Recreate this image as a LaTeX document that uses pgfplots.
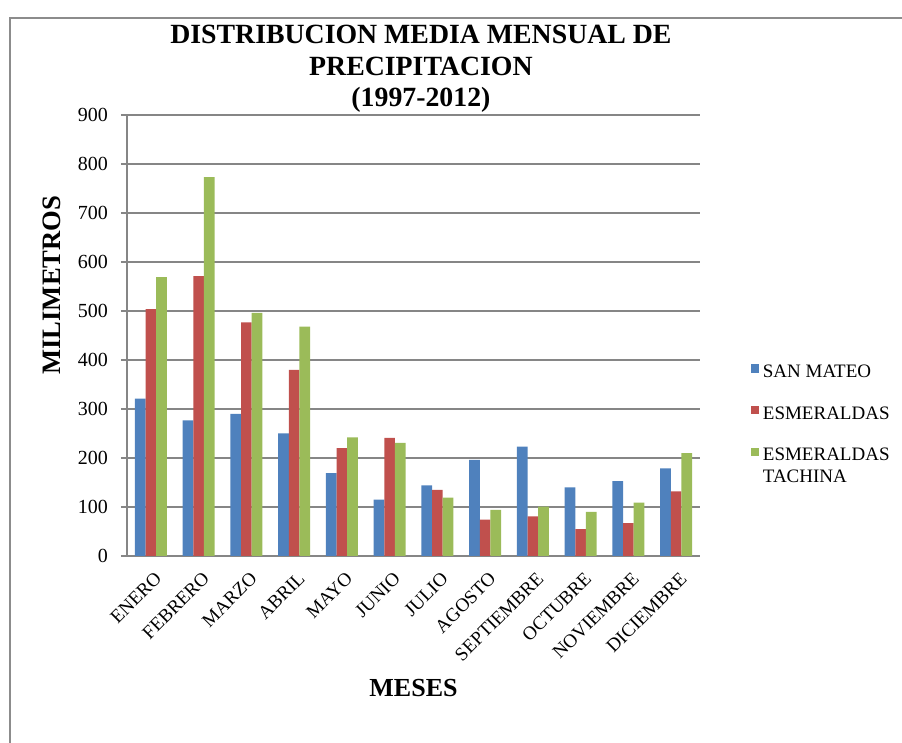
\documentclass[border=0pt]{standalone}
\usepackage{fontspec}
\setmainfont{Liberation Serif}
\usepackage{pgfplots}
\pgfplotsset{compat=1.18}
\definecolor{cblue}{RGB}{79,129,189}
\definecolor{cred}{RGB}{192,80,77}
\definecolor{cgreen}{RGB}{155,187,89}
\definecolor{gridg}{RGB}{134,134,134}
\definecolor{frameg}{RGB}{140,140,140}
\begin{document}
\begin{tikzpicture}
\useasboundingbox (0pt,0pt) rectangle (451pt,-371.5pt);
\draw[frameg, line width=0.7pt] (5pt,-372pt) -- (5pt,-9pt) -- (452pt,-9pt);
\begin{axis}[
  at={(63.5pt,-278pt)}, anchor=south west,
  scale only axis, width=286.5pt, height=220.5pt,
  ybar=0pt, bar width=5.35pt,
  xmin=-0.5, xmax=11.5, ymin=0, ymax=900,
  xtick=data,
  xticklabels={ENERO,FEBRERO,MARZO,ABRIL,MAYO,JUNIO,JULIO,AGOSTO,SEPTIEMBRE,OCTUBRE,NOVIEMBRE,DICIEMBRE},
  xticklabel style={rotate=45, anchor=north east, font=\fontsize{9.5}{11}\selectfont, inner sep=1pt, yshift=-3pt, xshift=-1pt},
  xtick style={draw=none},
  ytick={0,100,...,900},
  yticklabel style={font=\fontsize{10}{12}\selectfont, xshift=-3pt},
  /pgf/number format/assume math mode=true,
  ytick style={draw=gridg, line width=1pt},
  tick align=outside, major tick length=3pt,
  ymajorgrids, grid style={draw=gridg, line width=1pt},
  axis x line*=bottom, axis y line*=left,
  axis line style={draw=gridg, line width=1pt, -},
  title={DISTRIBUCION MEDIA MENSUAL DE\\PRECIPITACION\\(1997-2012)},
  title style={at={(axis description cs:0.513,1.077)}, anchor=center, align=center, font=\bfseries\fontsize{13.9}{15.8}\selectfont},
  xlabel={MESES},
  xlabel style={at={(axis description cs:0.5,-0.30)}, anchor=center, font=\bfseries\fontsize{13}{15}\selectfont},
  ylabel={MILIMETROS},
  ylabel style={at={(axis description cs:-0.131,0.614)}, anchor=center, rotate=0, font=\bfseries\fontsize{13.3}{15}\selectfont},
  legend image code/.code={\fill[#1] (0pt,0pt) rectangle (4.2pt,4.2pt);},
  legend style={at={(axis description cs:1.077,0.452)}, anchor=north west, draw=none, fill=none,
    font=\fontsize{9.5}{11}\selectfont, row sep=9pt, column sep=0pt,
    cells={anchor=base west, inner xsep=1.5pt}},
  legend cell align=left,
]
\addplot[fill=cblue, draw=none] coordinates {(0,321) (1,277) (2,290) (3,250) (4,169) (5,115) (6,144) (7,196) (8,223) (9,140) (10,153) (11,179)};
\addplot[fill=cred, draw=none] coordinates {(0,504) (1,571) (2,477) (3,380) (4,220) (5,241) (6,135) (7,74) (8,81) (9,55) (10,67) (11,132)};
\addplot[fill=cgreen, draw=none] coordinates {(0,569) (1,773) (2,496) (3,468) (4,242) (5,231) (6,119) (7,94) (8,101) (9,90) (10,109) (11,210)};
\legend{SAN MATEO, ESMERALDAS, {\vtop{\hbox{ESMERALDAS}\hbox{TACHINA}}}}
\end{axis}
\end{tikzpicture}
\end{document}
